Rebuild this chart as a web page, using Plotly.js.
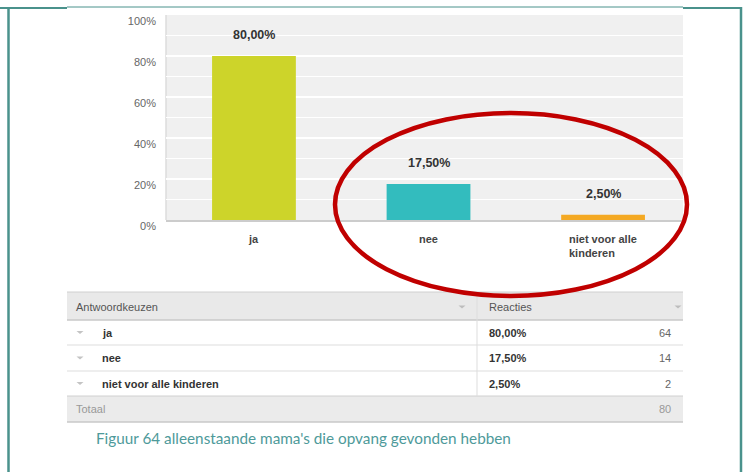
<!DOCTYPE html>
<html>
<head>
<meta charset="utf-8">
<script src="https://cdn.plot.ly/plotly-3.0.1.min.js"></script>
<style>
html,body{margin:0;padding:0;background:#fff;}
#chart{width:743px;height:472px;}
</style>
</head>
<body>
<div id="chart"></div>
<script>
// ---- data ----
var categories = ['ja', 'nee', 'niet voor alle kinderen'];
var tickLabels = ['ja', 'nee', 'niet voor alle<br>kinderen'];
var percents = [80, 17.5, 2.5];
var counts = [64, 14, 2];
var total = 80;
var yTicks = [0, 20, 40, 60, 80, 100];
var yTickText = ['0%', '20%', '40%', '60%', '80%', '100%'];
var tableHeaders = ['Antwoordkeuzen', 'Reacties'];
var totalLabel = 'Totaal';
var caption = "Figuur 64 alleenstaande mama's die opvang gevonden hebben";

var barColors = ['#CDD42A', '#33BCBE', '#F4A923'];

// ---- pixel helpers (plot area 166..683 x, 15..220 y) ----
var L = 166, R = 683, T = 15, B = 220;
function X(px) { return (px - L) / (R - L); }
function Y(py) { return (B - py) / (B - T); }
function fmtPct(v) { return v.toFixed(2).replace('.', ',') + '%'; }

var shapes = [];
var annotations = [];

// bar value labels and category labels
categories.forEach(function (c, i) {
  annotations.push({
    x: c, y: percents[i], xref: 'x', yref: 'y',
    text: fmtPct(percents[i]), showarrow: false,
    yanchor: 'bottom', yshift: 12,
    font: {family: 'Arial, Liberation Sans, sans-serif', size: 12.5, color: '#333', weight: 'bold'}
  });
  annotations.push({
    x: c, y: 0, xref: 'x', yref: 'paper',
    text: tickLabels[i], showarrow: false, align: 'left',
    yanchor: 'top', yshift: -11,
    font: {family: 'Arial, Liberation Sans, sans-serif', size: 11, color: '#444', weight: 'bold'}
  });
});

// ---- table ----
function line(x0, y0, x1, y1, color, w) {
  shapes.push({type: 'line', xref: 'paper', yref: 'paper', x0: X(x0), y0: Y(y0), x1: X(x1), y1: Y(y1),
    line: {color: color, width: w || 1}, layer: 'above'});
}
function rect(x0, y0, x1, y1, fill) {
  shapes.push({type: 'rect', xref: 'paper', yref: 'paper', x0: X(x0), y0: Y(y0), x1: X(x1), y1: Y(y1),
    fillcolor: fill, line: {width: 0}, layer: 'below'});
}
function tri(cx, cy, color) {
  var w = 3.5, h = 3;
  var p = 'M' + X(cx - w) + ',' + Y(cy - h / 2) + ' L' + X(cx + w) + ',' + Y(cy - h / 2) + ' L' + X(cx) + ',' + Y(cy + h / 2) + ' Z';
  shapes.push({type: 'path', xref: 'paper', yref: 'paper', path: p, fillcolor: color, line: {width: 0}, layer: 'above'});
}
function txt(x, y, s, anchor, color, bold, size) {
  annotations.push({
    x: X(x), y: Y(y), xref: 'paper', yref: 'paper', text: s, showarrow: false,
    xanchor: anchor, yanchor: 'middle',
    font: {family: 'Arial, Liberation Sans, sans-serif', size: size || 11, color: color, weight: bold ? 'bold' : 'normal'}
  });
}

var TL = 67, TR = 683, colSep = 477;
var rowTops = [292, 320, 345, 371, 396, 422];
rect(TL, rowTops[0], TR, rowTops[1], '#E9E9E9');
rect(TL, rowTops[4], TR, rowTops[5], '#EBEBEB');
line(TL, rowTops[0], TR, rowTops[0], '#D0D0D0', 1);
line(TL, rowTops[1], TR, rowTops[1], '#C8C8C8', 1.5);
line(TL, rowTops[2], TR, rowTops[2], '#DDDDDD', 1);
line(TL, rowTops[3], TR, rowTops[3], '#DDDDDD', 1);
line(TL, rowTops[4], TR, rowTops[4], '#D0D0D0', 1);
line(TL, rowTops[5], TR, rowTops[5], '#C8C8C8', 1.5);
line(colSep, rowTops[0], colSep, rowTops[4], '#DDDDDD', 1);

txt(74, 306.5, tableHeaders[0], 'left', '#555', false);
txt(487, 306.5, tableHeaders[1], 'left', '#555', false);
tri(462, 307, '#BDBDBD');
tri(678, 307, '#BDBDBD');

categories.forEach(function (c, i) {
  var cy = (rowTops[i + 1] + rowTops[i + 2]) / 2;
  tri(80, cy, '#C4C4C4');
  txt(100, cy, c, 'left', '#333', true);
  txt(487, cy, fmtPct(percents[i]), 'left', '#333', true);
  txt(673, cy, String(counts[i]), 'right', '#666', false);
});
var ty = (rowTops[4] + rowTops[5]) / 2;
txt(74, ty, totalLabel, 'left', '#999', false);
txt(673, ty, String(total), 'right', '#999', false);

// caption
annotations.push({
  x: X(94), y: Y(438), xref: 'paper', yref: 'paper', text: caption, showarrow: false,
  xanchor: 'left', yanchor: 'middle',
  font: {family: 'Lato, Open Sans, sans-serif', size: 15.3, color: '#4E9A9A'}
});

// frame
var frameC = '#4A928C';
shapes.push({type: 'line', xref: 'paper', yref: 'paper', x0: X(0), y0: Y(8), x1: X(67), y1: Y(8), line: {color: frameC, width: 2}});
shapes.push({type: 'line', xref: 'paper', yref: 'paper', x0: X(67), y0: Y(7), x1: X(683), y1: Y(7), line: {color: frameC, width: 1}});
shapes.push({type: 'line', xref: 'paper', yref: 'paper', x0: X(683), y0: Y(8), x1: X(742), y1: Y(8), line: {color: frameC, width: 2}});
shapes.push({type: 'line', xref: 'paper', yref: 'paper', x0: X(8.5), y0: Y(7), x1: X(8.5), y1: Y(472), line: {color: frameC, width: 2.5}});
shapes.push({type: 'line', xref: 'paper', yref: 'paper', x0: X(741), y0: Y(7), x1: X(741), y1: Y(472), line: {color: frameC, width: 2.5}});

// left axis light line
shapes.push({type: 'line', xref: 'paper', yref: 'paper', x0: 0, y0: 0, x1: 0, y1: 1, line: {color: '#DCDCDC', width: 1.5}, layer: 'below'});

// red ellipse
shapes.push({type: 'circle', xref: 'paper', yref: 'paper', x0: X(335), x1: X(687), y0: Y(296), y1: Y(113),
  line: {color: '#C00000', width: 4.5}, layer: 'above'});

var trace = {
  type: 'bar', x: categories, y: percents,
  marker: {color: barColors, line: {width: 0}},
  width: 0.48, hoverinfo: 'skip'
};

var layout = {
  width: 743, height: 472,
  margin: {l: L, r: 743 - R, t: T, b: 472 - B, pad: 0},
  paper_bgcolor: '#FFFFFF', plot_bgcolor: '#F0F0F0',
  showlegend: false,
  xaxis: {
    type: 'category', range: [-0.504, 2.458], showticklabels: false, showgrid: false,
    zeroline: false, showline: true, linecolor: '#CCCCCC', linewidth: 2, ticks: '', fixedrange: true
  },
  yaxis: {
    range: [0, 100], tickmode: 'array', tickvals: yTicks, ticktext: yTickText, showgrid: true, gridcolor: '#FFFFFF', gridwidth: 1.5,
    minor: {dtick: 10, showgrid: true, gridcolor: '#FFFFFF', gridwidth: 1.5, ticks: ''},
    zeroline: false, showline: false, ticks: '', ticklabelstandoff: 9, ticklabelshift: 6,
    tickfont: {family: 'Arial, Liberation Sans, sans-serif', size: 11, color: '#666'}, fixedrange: true
  },
  shapes: shapes,
  annotations: annotations
};

Plotly.newPlot('chart', [trace], layout, {displayModeBar: false, staticPlot: true});
</script>
</body>
</html>
